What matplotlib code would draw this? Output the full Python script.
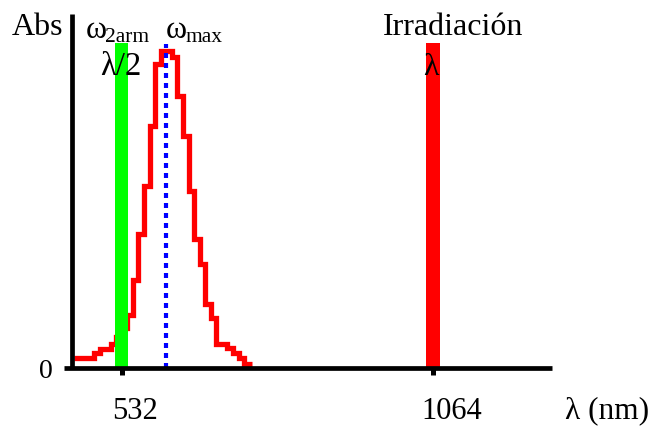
import matplotlib
matplotlib.use("Agg")
import matplotlib.pyplot as plt
import matplotlib.transforms as mtransforms
import numpy as np

plt.rcParams['font.family'] = ['Liberation Serif', 'DejaVu Serif']

# ---- data ----
# absorption spectrum (step histogram), wavelength edges in nm
wl_edges = [451, 485, 494.5, 504, 513.5, 523, 532.5, 542, 551.5, 561, 570.5,
            580, 589.5, 599, 608.5, 618, 627.5, 637, 646.5, 656, 665.5, 675,
            684.5, 694, 703.5, 713, 722.5, 732, 741.5, 755.5]
abs_vals = [0.031, 0.047, 0.062, 0.062, 0.078, 0.100, 0.126, 0.168, 0.278,
            0.423, 0.576, 0.765, 0.958, 1.0, 1.0, 0.981, 0.859, 0.733, 0.559,
            0.407, 0.328, 0.204, 0.158, 0.078, 0.078, 0.063, 0.048, 0.032,
            0.015]
w_2arm = 532       # second harmonic
w_irr = 1064       # irradiation wavelength
w_max = 608        # absorption maximum
band_height = 1.025
band_width = 23
max_line_height = 1.022
xticks = [532, 1064]
xticklabels = ["532", "1064"]

W, H = 656, 429
fig = plt.figure(figsize=(W / 100, H / 100), dpi=100)
ax = fig.add_axes([64.3 / W, 1 - 368.3 / H, (552 - 64.3) / W, (368.3 - 14) / H])

ax.set_xlim(434.3, 1267.3)
ax.set_ylim(0, 1.1166)

# spectrum
ax.stairs(abs_vals, wl_edges, baseline=None, fill=False, color='#ff0000',
          lw=3.8, zorder=2)
# laser lines
ax.bar([w_2arm], [band_height], width=band_width, color='#00ff00', zorder=3)
ax.bar([w_irr], [band_height], width=band_width, color='#ff0000', zorder=3)
# max line
ax.plot([w_max, w_max], [0, max_line_height], color='#0000ff', lw=3.0,
        ls=(0, (1.2, 1.2)), zorder=4)

# axes styling
for s in ['top', 'right']:
    ax.spines[s].set_visible(False)
ax.spines['left'].set_position(('data', 448.3))
for s in ['left', 'bottom']:
    ax.spines[s].set_linewidth(3.4)
    ax.spines[s].set_capstyle('butt')
    ax.spines[s].set_zorder(5)

ax.set_xticks(xticks)
ax.set_xticklabels(xticklabels)
ax.tick_params(axis='x', direction='out', length=4.8, width=3.6, pad=15.8,
               labelsize=22)
for lab, dx in zip(ax.get_xticklabels(), [-9.5, -11.5]):
    lab.set_horizontalalignment('left')
    lab.set_transform(lab.get_transform() +
                      mtransforms.ScaledTranslation(dx / 100, 0, fig.dpi_scale_trans))
ax.set_yticks([0])
ax.set_yticklabels(["0"])
ax.tick_params(axis='y', length=0, pad=14, labelsize=20)

def ftext(px, py, s, size, **kw):
    fig.text(px / W, 1 - py / H, s, fontsize=size, ha='left', va='baseline',
             zorder=10, **kw)

ftext(12, 35, "Abs", 23)
ftext(86, 38, "ω", 23)
ftext(105, 42, "2arm", 15.5)
ftext(166, 38, "ω", 23)
ftext(186, 42, "max", 15.5)
ftext(100, 75, "λ/2", 23.5)
ftext(383, 35, "Irradiación", 23)
ftext(423, 75, "λ", 23)
ftext(565, 418, "λ (nm)", 22.5)

fig.savefig("out.png", dpi=100)
